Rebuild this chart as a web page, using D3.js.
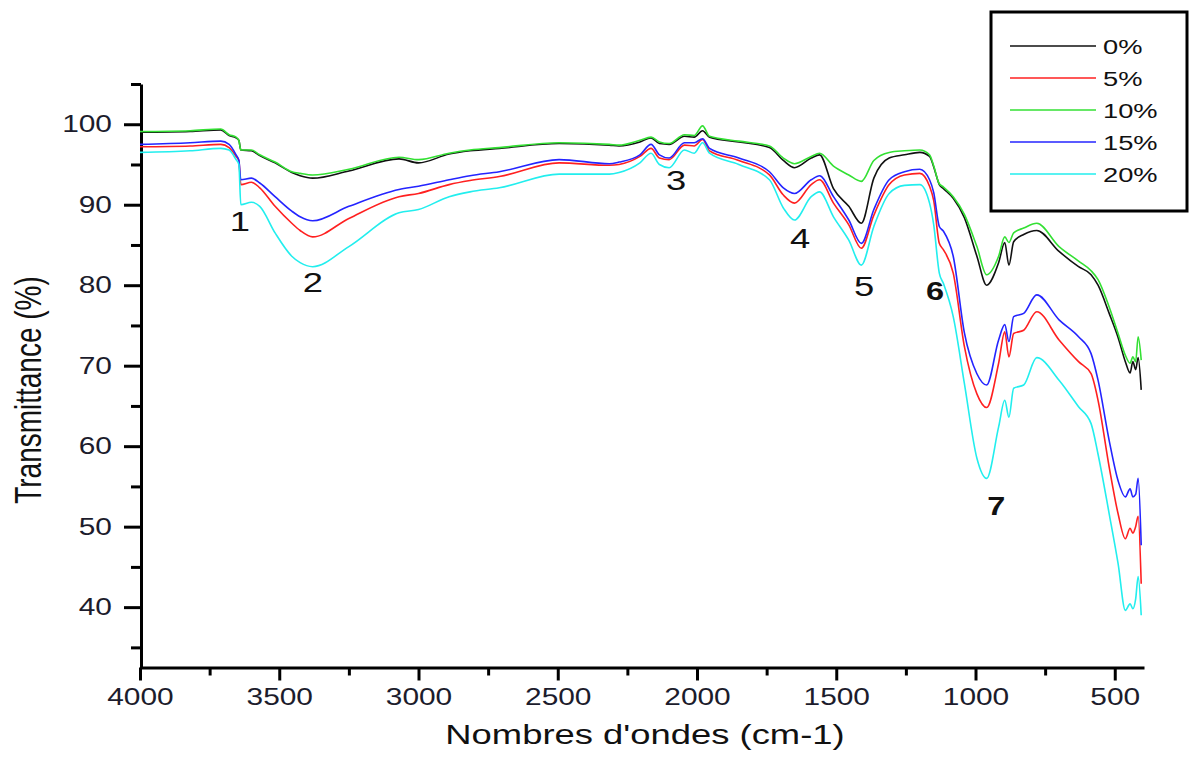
<!DOCTYPE html>
<html>
<head>
<meta charset="utf-8">
<script src="https://cdn.jsdelivr.net/npm/d3@7"></script>
<style>
  body { margin: 0; background: #fff; }
  svg { display: block; font-family: "Liberation Sans", Arial, sans-serif; }
</style>
</head>
<body>
<svg width="1190" height="764"></svg>
<script>
// wavenumbers (cm-1) shared by all spectra
var wavenumbers = [4000, 3820, 3710, 3680, 3655, 3645, 3638, 3600, 3570, 3515, 3455, 3425, 3380, 3250,
  3070, 3000, 2890, 2815, 2710, 2495, 2315, 2280, 2205, 2165, 2135, 2100, 2045, 2010, 1980, 1955,
  1850, 1740, 1690, 1650, 1590, 1560, 1510, 1455, 1410, 1365, 1310, 1255, 1200, 1165, 1150, 1130,
  1115, 1080, 1040, 995, 960, 917, 895, 880, 863, 827, 780, 700, 630, 585, 560, 520, 488, 462,
  445, 435, 425, 416, 405];

var t0 = [99.0, 99.1, 99.3, 98.6, 98.3, 98.0, 96.8, 96.7, 96.1, 95.2, 94.0, 93.6, 93.3, 94.2,
  95.7, 95.2, 96.3, 96.7, 97.0, 97.6, 97.4, 97.3, 97.8, 98.3, 97.6, 97.5, 98.5, 98.4, 99.2, 98.4,
  97.8, 97.1, 95.5, 94.6, 95.8, 96.2, 92.0, 89.8, 87.7, 93.3, 95.8, 96.2, 96.5, 96.0, 94.7, 92.5,
  92.0, 90.8, 88.4, 83.6, 80.0, 82.8, 85.3, 82.5, 85.4, 86.3, 86.8, 84.2, 82.3, 81.3, 80.0, 76.5, 73.5, 70.5,
  69.1, 70.5, 69.5, 71.0, 67.0];

var t5 = [97.2, 97.3, 97.5, 97.1, 96.0, 95.5, 92.5, 92.8, 92.1, 89.8, 87.7, 86.8, 86.0, 88.3,
  91.0, 91.4, 92.5, 93.0, 93.5, 95.2, 94.9, 95.0, 96.0, 97.0, 95.8, 95.6, 97.4, 97.3, 98.1, 96.7,
  95.5, 93.7, 91.2, 90.2, 92.5, 93.1, 90.2, 87.5, 84.6, 88.7, 92.5, 93.7, 93.9, 92.3, 90.5, 85.2,
  84.4, 81.5, 72.4, 66.5, 64.8, 70.3, 74.2, 71.1, 74.0, 74.4, 76.7, 73.2, 70.5, 69.0, 65.7, 57.4, 51.6, 48.5,
  49.8, 49.2, 50.0, 51.3, 42.9];

var t10 = [99.1, 99.2, 99.4, 98.7, 98.4, 98.0, 96.8, 96.8, 96.2, 95.3, 94.1, 93.9, 93.7, 94.4,
  95.9, 95.6, 96.4, 96.8, 97.1, 97.7, 97.5, 97.4, 98.0, 98.4, 97.8, 97.6, 98.7, 98.6, 99.8, 98.5,
  97.9, 97.3, 95.8, 95.1, 96.0, 96.4, 94.8, 93.7, 92.9, 95.5, 96.5, 96.7, 96.8, 96.2, 94.8, 92.6,
  92.2, 91.0, 88.8, 84.8, 81.3, 83.6, 86.0, 85.3, 86.5, 87.1, 87.7, 84.8, 83.0, 81.8, 80.7, 77.3, 74.0, 71.3,
  70.3, 71.1, 70.5, 73.6, 70.7];

var t15 = [97.5, 97.7, 97.9, 97.5, 96.2, 95.5, 93.1, 93.3, 92.7, 91.0, 89.2, 88.5, 88.0, 89.8,
  91.9, 92.3, 93.1, 93.6, 94.1, 95.6, 95.1, 95.3, 96.2, 97.5, 96.2, 95.8, 97.7, 97.7, 98.2, 97.0,
  95.8, 94.1, 92.1, 91.4, 93.1, 93.6, 91.0, 88.1, 85.2, 89.4, 93.1, 94.1, 94.4, 93.1, 91.5, 87.3,
  86.7, 83.6, 74.1, 69.0, 67.6, 73.2, 75.1, 73.0, 76.1, 76.5, 78.8, 75.7, 73.6, 71.5, 68.2, 60.7, 55.7, 53.7,
  54.7, 53.7, 54.0, 56.0, 47.7];

var t20 = [96.5, 96.7, 97.0, 96.8, 95.6, 95.0, 90.0, 90.3, 89.8, 86.5, 83.6, 82.8, 82.3, 84.8,
  89.0, 89.4, 91.0, 91.6, 92.1, 93.8, 93.8, 94.0, 95.2, 96.4, 95.0, 94.6, 96.8, 96.4, 97.7, 96.4,
  95.0, 93.1, 89.6, 88.1, 91.0, 91.6, 88.5, 85.6, 82.5, 87.3, 91.4, 92.4, 92.5, 90.2, 87.5, 81.5,
  80.2, 76.1, 67.8, 58.5, 56.0, 62.4, 65.7, 63.6, 67.2, 67.6, 71.0, 68.2, 64.9, 62.8, 59.0, 51.6, 45.4, 39.6,
  40.4, 39.8, 41.0, 43.8, 39.0];

var seriesNames = ["0%", "5%", "10%", "15%", "20%"];
var seriesColors = ["#111111", "#ff2020", "#33e033", "#2424ff", "#22eeee"];
var seriesValues = [t0, t5, t10, t15, t20];

var xMajor = [4000, 3500, 3000, 2500, 2000, 1500, 1000, 500];
var xMinor = [3750, 3250, 2750, 2250, 1750, 1250, 750];
var yMajor = [40, 50, 60, 70, 80, 90, 100];
var yMinor = [35, 45, 55, 65, 75, 85, 95, 105];

var peakLabels = ["1", "2", "3", "4", "5", "6", "7"];
var peakWave = [3641, 3379, 2075, 1630, 1400, 1145, 925];
var peakValue = [86.7, 79.2, 91.8, 84.6, 78.6, 78.2, 51.5];
var peakBold = [false, false, false, false, false, true, true];

var svg = d3.select("svg");
var stretch = 1.3; // the reference text is drawn wide

var x = d3.scaleLinear().domain([4000, 395]).range([140, 1144]);
var y = d3.scaleLinear().domain([32.5, 105]).range([667.5, 84]);

// x axis: minor ticks first, then major with labels
var xMinorG = svg.append("g").attr("transform", "translate(0,667.5)")
  .call(d3.axisBottom(x).tickValues(xMinor).tickSize(8).tickSizeOuter(0).tickFormat(""));
xMinorG.select(".domain").remove();

var xG = svg.append("g").attr("transform", "translate(0,667.5)")
  .call(d3.axisBottom(x).tickValues(xMajor).tickSize(13).tickSizeOuter(0).tickFormat(d3.format("d")));
xG.selectAll(".tick text")
  .attr("y", null).attr("dy", null)
  .attr("transform", "translate(0,37.5) scale(" + stretch + ",1)")
  .style("font-size", "23px").attr("fill", "#1c1c2c");

var yMinorG = svg.append("g").attr("transform", "translate(141,0)")
  .call(d3.axisLeft(y).tickValues(yMinor).tickSize(10).tickSizeOuter(0).tickFormat(""));
yMinorG.select(".domain").remove();

var yG = svg.append("g").attr("transform", "translate(141,0)")
  .call(d3.axisLeft(y).tickValues(yMajor).tickSize(17).tickSizeOuter(0).tickFormat(d3.format("d")));
yG.selectAll(".tick text")
  .attr("x", null)
  .attr("transform", "translate(-29,0) scale(" + stretch + ",1)")
  .style("font-size", "23px").attr("fill", "#1c1c2c");

svg.selectAll(".domain").attr("stroke-width", 3).attr("stroke", "#000");
svg.selectAll(".tick line").attr("stroke-width", 3).attr("stroke", "#000");

// spectra
var line = d3.line()
  .x(function(d, i) { return x(wavenumbers[i]); })
  .y(function(d) { return y(d); })
  .curve(d3.curveMonotoneX);

seriesValues.forEach(function(vals, k) {
  svg.append("path")
    .attr("d", line(vals))
    .attr("fill", "none")
    .attr("stroke", seriesColors[k])
    .attr("stroke-width", 1.6)
    .attr("stroke-linejoin", "round");
});

// peak numbers
for (var i = 0; i < peakLabels.length; i++) {
  svg.append("text")
    .text(peakLabels[i])
    .attr("text-anchor", "middle")
    .attr("transform", "translate(" + x(peakWave[i]) + "," + y(peakValue[i]) + ") scale(" + stretch + ",1)")
    .style("font-size", peakBold[i] ? "25px" : "28px")
    .style("font-weight", peakBold[i] ? "bold" : "normal")
    .attr("fill", "#111");
}

// axis titles
svg.append("text")
  .text("Nombres d'ondes (cm-1)")
  .attr("text-anchor", "middle")
  .attr("transform", "translate(645,744) scale(" + stretch + ",1)")
  .style("font-size", "28px").attr("fill", "#111");

svg.append("text")
  .text("Transmittance (%)")
  .attr("text-anchor", "middle")
  .attr("transform", "translate(41,390) scale(" + stretch + ",1) rotate(-90)")
  .style("font-size", "28px").attr("fill", "#111");

// legend
var legend = svg.append("g");
legend.append("rect")
  .attr("x", 991).attr("y", 12).attr("width", 196).attr("height", 199)
  .attr("fill", "#fff").attr("stroke", "#000").attr("stroke-width", 3);
seriesNames.forEach(function(name, k) {
  var ly = 46 + k * 32;
  legend.append("line")
    .attr("x1", 1010).attr("x2", 1096).attr("y1", ly).attr("y2", ly)
    .attr("stroke", seriesColors[k]).attr("stroke-width", 1.6);
  legend.append("text")
    .text(name)
    .attr("transform", "translate(1103," + (ly + 8) + ") scale(" + stretch + ",1)")
    .style("font-size", "21px").attr("fill", "#111");
});
</script>
</body>
</html>
